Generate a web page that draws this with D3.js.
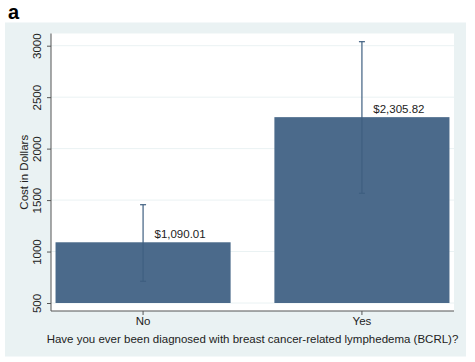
<!DOCTYPE html>
<html>
<head>
<meta charset="utf-8">
<title>BCRL cost</title>
<script src="https://d3js.org/d3.v7.min.js"></script>
<style>
  body { margin: 0; background: #fff; }
  text { font-family: "Liberation Sans", Arial, sans-serif; fill: #222; }
</style>
</head>
<body>
<div id="chart"></div>
<script>
  // data
  let categories = ['No', 'Yes'];
  let means = [1090.01, 2305.82];
  let ciLow = [711, 1566];
  let ciHigh = [1455, 3039];
  let labels = ['$1,090.01', '$2,305.82'];
  let yTicks = [500, 1000, 1500, 2000, 2500, 3000];

  let svgw = 475, svgh = 362;
  let plot = {left: 51, right: 454, top: 33.5, bottom: 311};

  let svg = d3.select('#chart').append('svg')
    .attr('width', svgw)
    .attr('height', svgh);

  // stata style outer region
  svg.append('rect')
    .attr('x', 5).attr('y', 22.5)
    .attr('width', 461).attr('height', 334)
    .attr('fill', '#eaf2f3');

  svg.append('rect')
    .attr('x', plot.left).attr('y', plot.top)
    .attr('width', plot.right - plot.left).attr('height', plot.bottom - plot.top)
    .attr('fill', '#fff');

  svg.append('text')
    .attr('x', 8).attr('y', 19)
    .attr('font-size', 20).attr('font-weight', 'bold')
    .style('fill', '#000')
    .text('a');

  let y = d3.scaleLinear()
    .domain([500, 3000])
    .range([303, 45.7]);

  let x = d3.scaleBand()
    .domain(categories)
    .range([plot.left + 3, plot.right - 3])
    .paddingInner(0.2)
    .paddingOuter(0.007);

  // grid
  svg.append('g').selectAll('line')
    .data(yTicks)
    .enter().append('line')
    .attr('x1', plot.left).attr('x2', plot.right)
    .attr('y1', d => y(d)).attr('y2', d => y(d))
    .attr('stroke', '#eaf2f3').attr('stroke-width', 1);

  // bars
  svg.append('g').selectAll('rect')
    .data(categories)
    .enter().append('rect')
    .attr('x', d => x(d))
    .attr('width', x.bandwidth())
    .attr('y', (d, i) => y(means[i]))
    .attr('height', (d, i) => y(500) - y(means[i]))
    .attr('fill', '#4b6a8b');

  // error bars
  let eb = svg.append('g').attr('stroke', '#3f5f80').attr('stroke-width', 1.2);
  categories.forEach((c, i) => {
    let cx = x(c) + x.bandwidth() / 2;
    eb.append('line').attr('x1', cx).attr('x2', cx).attr('y1', y(ciLow[i])).attr('y2', y(ciHigh[i]));
    eb.append('line').attr('x1', cx - 3).attr('x2', cx + 3).attr('y1', y(ciLow[i])).attr('y2', y(ciLow[i]));
    eb.append('line').attr('x1', cx - 3).attr('x2', cx + 3).attr('y1', y(ciHigh[i])).attr('y2', y(ciHigh[i]));
  });

  // bar labels
  svg.append('g').selectAll('text')
    .data(categories)
    .enter().append('text')
    .attr('x', d => x(d) + x.bandwidth() / 2 + 37)
    .attr('y', (d, i) => y(means[i]) - 4)
    .attr('text-anchor', 'middle')
    .attr('font-size', 11.5)
    .text((d, i) => labels[i]);

  // y axis
  let yAxis = svg.append('g')
    .attr('transform', `translate(${plot.left},0)`)
    .call(d3.axisLeft(y).tickValues(yTicks).tickFormat(d3.format('d')).tickSize(4).tickPadding(3));
  yAxis.select('.domain').attr('d', `M0,${plot.top}V${plot.bottom}`).attr('stroke', '#555');
  yAxis.selectAll('.tick line').attr('stroke', '#555');
  yAxis.selectAll('.tick text')
    .attr('font-size', 11.5)
    .attr('font-family', '"Liberation Sans", Arial, sans-serif')
    .attr('fill', '#222')
    .attr('x', null).attr('dy', null)
    .attr('text-anchor', 'middle')
    .attr('transform', 'translate(-10,0) rotate(-90)');

  // x axis
  let xAxis = svg.append('g')
    .attr('transform', `translate(0,${plot.bottom})`)
    .call(d3.axisBottom(x).tickSize(4).tickPadding(2));
  xAxis.select('.domain').attr('d', `M${plot.left},0H${plot.right}`).attr('stroke', '#555');
  xAxis.selectAll('.tick line').attr('stroke', '#555');
  xAxis.selectAll('.tick text')
    .attr('font-size', 11.5)
    .attr('font-family', '"Liberation Sans", Arial, sans-serif')
    .attr('fill', '#222');

  svg.append('text')
    .attr('x', (plot.left + plot.right) / 2)
    .attr('y', 343)
    .attr('text-anchor', 'middle')
    .attr('font-size', 11.5)
    .text('Have you ever been diagnosed with breast cancer-related lymphedema (BCRL)?');

  svg.append('text')
    .attr('transform', `translate(28,${(plot.top + plot.bottom) / 2}) rotate(-90)`)
    .attr('text-anchor', 'middle')
    .attr('font-size', 11.5)
    .text('Cost in Dollars');
</script>
</body>
</html>
